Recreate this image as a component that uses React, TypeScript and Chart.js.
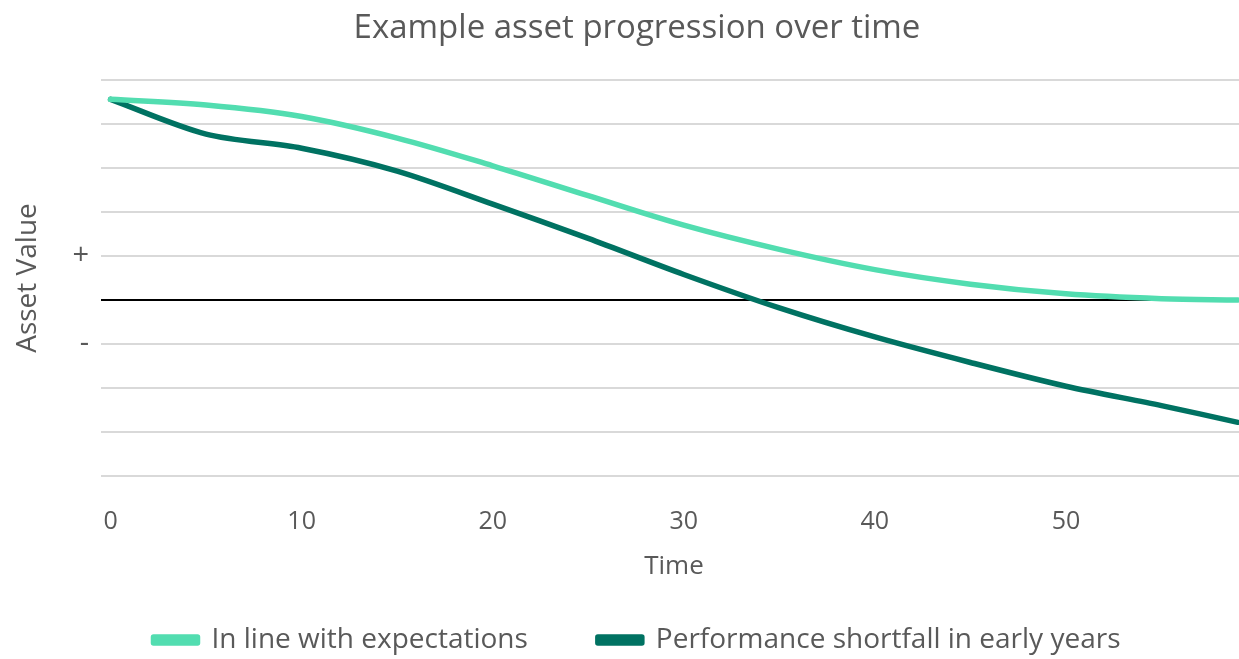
import React, { useEffect, useRef } from "react";
import { Chart, registerables } from "chart.js";

Chart.register(...registerables);

const years = [0, 5, 10, 15, 20, 25, 30, 35, 40, 45, 50, 55, 59];
const expectedSeries = [4.56, 4.43, 4.17, 3.68, 3.05, 2.37, 1.7, 1.15, 0.69, 0.36, 0.14, 0.03, 0.0];
const shortfallSeries = [4.56, 3.77, 3.45, 2.93, 2.18, 1.4, 0.58, -0.18, -0.84, -1.42, -1.96, -2.4, -2.78];
const xTickValues = [0, 10, 20, 30, 40, 50];
const yTickLabels: Record<string, string> = { "1": "+", "-1": "-" };
const seriesNames = ["In line with expectations", "Performance shortfall in early years"];

const LIGHT = "#52DDB0";
const DARK = "#007262";
const TEXT = "#595959";
const FONT = "'Open Sans', 'Noto Sans', sans-serif";

export default function App() {
  const ref = useRef<HTMLCanvasElement | null>(null);

  useEffect(() => {
    document.body.style.margin = "0";
    document.body.style.overflow = "hidden";
    const canvas = ref.current;
    if (!canvas) return;
    const chart = new Chart(canvas, {
      type: "line",
      data: {
        datasets: [
          {
            label: seriesNames[0],
            data: years.map((x, i) => ({ x, y: expectedSeries[i] })),
            borderColor: LIGHT,
            backgroundColor: LIGHT,
            borderWidth: 5.5,
            pointRadius: 0,
            tension: 0.35,
            borderCapStyle: "round",
            borderJoinStyle: "round",
          },
          {
            label: seriesNames[1],
            data: years.map((x, i) => ({ x, y: shortfallSeries[i] })),
            borderColor: DARK,
            backgroundColor: DARK,
            borderWidth: 5.5,
            pointRadius: 0,
            tension: 0.3,
            borderCapStyle: "round",
            borderJoinStyle: "round",
          },
        ],
      },
      options: {
        responsive: false,
        animation: false,
        layout: { padding: { left: 0, right: 0, top: 0, bottom: -5 } },
        plugins: {
          tooltip: { enabled: false },
          title: {
            display: true,
            text: "Example asset progression over time",
            color: TEXT,
            font: { family: FONT, size: 33, weight: "normal" },
            padding: { top: 9, bottom: 31.4 },
          },
          legend: {
            display: true,
            position: "bottom",
            labels: {
              color: TEXT,
              font: { family: FONT, size: 28 },
              boxWidth: 44,
              boxHeight: 6,
              padding: 70,
            },
          },
        },
        scales: {
          x: {
            type: "linear",
            min: -0.5,
            max: 60.89,
            grid: { display: false },
            border: { display: false },
            afterBuildTicks: (scale: any) => {
              scale.ticks = xTickValues.map((v) => ({ value: v }));
            },
            afterFit: (scale: any) => {
              scale.height = 80;
            },
            ticks: {
              color: TEXT,
              font: { family: FONT, size: 25 },
              padding: 23,
              maxRotation: 0,
              autoSkip: false,
            },
            title: {
              display: false,
            },
          },
          y: {
            min: -4,
            max: 5,
            afterFit: (scale: any) => {
              scale.width = 101;
            },
            ticks: {
              stepSize: 1,
              color: TEXT,
              font: { family: FONT, size: 29 },
              padding: 12,
              callback: (v: any) => yTickLabels[String(v)] ?? "",
            },
            grid: {
              drawTicks: false,
              color: (ctx: any) => (ctx.tick && ctx.tick.value === 0 ? "#000000" : "#d9d9d9"),
              lineWidth: 2,
            },
            border: { display: false },
            title: {
              display: true,
              text: "Asset Value",
              color: TEXT,
              font: { family: FONT, size: 28 },
              padding: { top: 11, bottom: 0 },
            },
          },
        },
      },
      plugins: [
        {
          id: "xTitle",
          afterDraw: (c: any) => {
            const ctx = c.ctx;
            const area = c.chartArea;
            ctx.save();
            ctx.fillStyle = TEXT;
            ctx.font = `26px ${FONT}`;
            ctx.textAlign = "center";
            ctx.textBaseline = "middle";
            ctx.fillText("Time", 674, area.bottom + 91);
            ctx.restore();
          },
        },
      ],
    });
    return () => chart.destroy();
  }, []);

  return (
    <div style={{ width: 1239, height: 659, overflow: "hidden" }}>
      <canvas ref={ref} width={1274} height={659} />
    </div>
  );
}
